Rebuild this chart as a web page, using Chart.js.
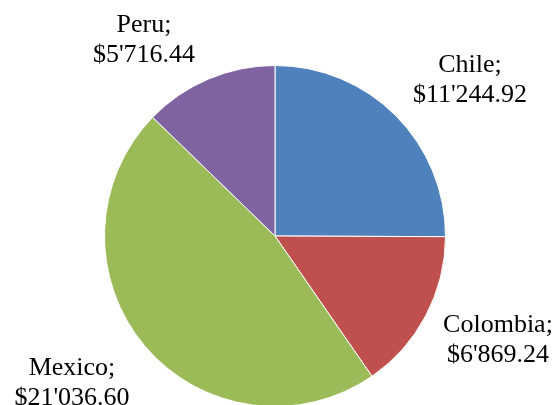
<!DOCTYPE html>
<html>
<head>
<meta charset="utf-8">
<script src="https://cdn.jsdelivr.net/npm/chart.js@4.4.0/dist/chart.umd.min.js"></script>
<style>
  html, body { margin: 0; padding: 0; background: #fff; overflow: hidden; }
  #wrap { position: relative; width: 556px; height: 420px; }
</style>
</head>
<body>
<div id="wrap"><canvas id="myChart"></canvas></div>
<script>
var countries = ["Chile", "Colombia", "Mexico", "Peru"];
var amounts = [11244.92, 6869.24, 21036.60, 5716.44];
var sliceColors = ['#4F81BD', '#C0504D', '#9BBB59', '#8064A2'];

// where each two-line label sits, relative to the pie centre (first baseline)
var labelOffsets = [[195, -164], [223, 96], [-203, 139], [-131, -204]];

function money(v) {
    var parts = v.toFixed(2).split('.');
    var whole = parts[0].replace(/\B(?=(\d{3})+(?!\d))/g, "'");
    return '$' + whole + '.' + parts[1];
}

var pieLabels = {
    id: 'pieLabels',
    afterDraw: function (chart) {
        var arc0 = chart.getDatasetMeta(0).data[0];
        var cx = arc0.x, cy = arc0.y;
        var c = chart.ctx;
        c.save();
        c.font = '26px "Liberation Serif", "Times New Roman", serif';
        c.fillStyle = '#000';
        c.textAlign = 'center';
        c.textBaseline = 'alphabetic';
        chart.data.labels.forEach(function (name, i) {
            var x = cx + labelOffsets[i][0];
            var y = cy + labelOffsets[i][1];
            c.fillText(name + ';', x, y);
            c.fillText(money(chart.data.datasets[0].data[i]), x, y + 30);
        });
        c.restore();
    }
};

var ctx = document.getElementById("myChart");
var myChart = new Chart(ctx, {
    type: 'pie',
    data: {
        labels: countries,
        datasets: [{
            data: amounts,
            backgroundColor: sliceColors,
            borderColor: '#ffffff',
            borderWidth: 1
        }]
    },
    options: {
        responsive: true,
        maintainAspectRatio: false,
        animation: false,
        layout: { padding: { top: 65, bottom: 13, left: 104, right: 110 } },
        plugins: {
            legend: { display: false },
            tooltip: { enabled: false }
        }
    },
    plugins: [pieLabels]
});
</script>
</body>
</html>
